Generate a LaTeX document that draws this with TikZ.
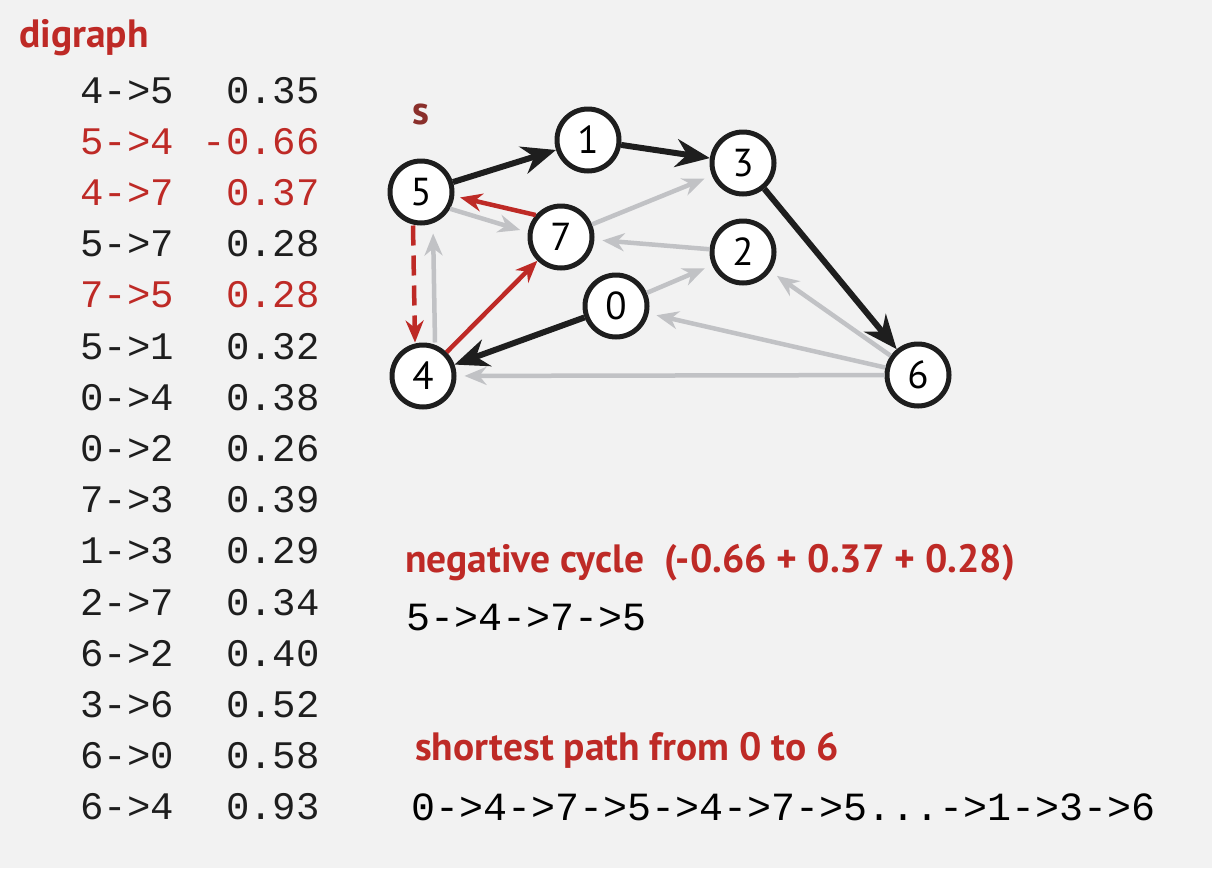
\documentclass[tikz,border=0pt]{standalone}
\usepackage{fontspec}
\setmainfont{PT Sans}
\newfontfamily\listfont{Liberation Mono}
\usetikzlibrary{arrows.meta}
\definecolor{dgred}{HTML}{BE2A26}
\definecolor{dgdark}{HTML}{8A2F2B}
\definecolor{dgedge}{HTML}{C1C2C5}
\definecolor{dgbg}{HTML}{F2F2F2}
\definecolor{dgink}{HTML}{1E1E1E}

\begin{document}
\begin{tikzpicture}[x=1pt, y=-1pt,
  vertex/.style={circle, draw=dgink, line width=5pt, fill=white,
    minimum size=62pt, inner sep=0pt, font=\fontsize{39}{39}\selectfont},
  title/.style={font=\bfseries\fontsize{39.5}{39.5}\selectfont, text=dgred,
    inner sep=0pt, anchor=base west},
  edgetxt/.style={font=\listfont\fontsize{39}{39}\selectfont, inner sep=0pt},
  pathtxt/.style={font=\listfont\fontsize{40}{40}\selectfont, inner sep=0pt,
    anchor=base west},
  spt/.style={draw=dgink, line width=6pt, -{Stealth[length=34pt, width=28pt]}},
  plain/.style={draw=dgedge, line width=4.5pt, -{Stealth[length=22pt, width=18pt]},
    shorten >=8pt},
  cyc/.style={draw=dgred, line width=4.5pt, -{Stealth[length=22pt, width=18pt]}}]
\fill[dgbg] (0,0) rectangle (1212,868);

% edge list
\node[title] (digraph) at (19,47) {digraph};
\foreach \e/\w/\c [count=\i from 0] in {4->5/0.35/dgink, 5->4/-0.66/dgred,
    4->7/0.37/dgred, 5->7/0.28/dgink, 7->5/0.28/dgred, 5->1/0.32/dgink,
    0->4/0.38/dgink, 0->2/0.26/dgink, 7->3/0.39/dgink, 1->3/0.29/dgink,
    2->7/0.34/dgink, 6->2/0.40/dgink, 3->6/0.52/dgink, 6->0/0.58/dgink,
    6->4/0.93/dgink} {
  \node[edgetxt, text=\c, anchor=base west] (e\i) at (80,{103+51.2*\i}) {\e};
  \node[edgetxt, text=\c, anchor=base east] (w\i) at (320,{103+51.2*\i}) {\w};
}

% graph
\node[font=\bfseries\fontsize{40}{40}\selectfont, text=dgdark, inner sep=0pt,
      anchor=base west] (src) at (412,124) {s};
\node[vertex] (v5) at (421,192) {5};
\node[vertex] (v1) at (588,140) {1};
\node[vertex] (v3) at (743,163) {3};
\node[vertex] (v7) at (561,237) {7};
\node[vertex] (v2) at (743,252) {2};
\node[vertex] (v0) at (616,306) {0};
\node[vertex] (v4) at (423,376) {4};
\node[vertex] (v6) at (918,375) {6};

\draw[plain] (v5.-30) -- (v7.172);
\draw[plain] (v7) -- (v3);
\draw[plain] (v2) -- (v7);
\draw[plain] (v0) -- (v2);
\draw[plain] (v6) -- (v2);
\draw[plain] (v6) -- (v0);
\draw[plain] (v6) -- (v4);
\draw[plain] ([xshift=12pt]v4.north) -- ([xshift=12pt]v5.south);
\draw[cyc, shorten >=6pt] (v7.139) -- (v5.-7);
\draw[cyc] (v4) -- (v7);
\draw[cyc, dash pattern=on 20pt off 10pt] ([xshift=-8pt]v5.south) -- ([xshift=-8pt]v4.north);
\draw[spt] (v5) -- (v1);
\draw[spt] (v1) -- (v3);
\draw[spt] (v3) -- (v6);
\draw[spt] (v0) -- (v4);

% results
\node[title] (negcyc) at (405,572) {negative cycle\ \ (-0.66 + 0.37 + 0.28)};
\node[pathtxt] (cycpath) at (406,630) {5->4->7->5};
\node[title] (sp) at (415,760) {shortest path from 0 to 6};
\node[pathtxt] (sppath) at (411,820) {0->4->7->5->4->7->5...->1->3->6};
\end{tikzpicture}
\end{document}
